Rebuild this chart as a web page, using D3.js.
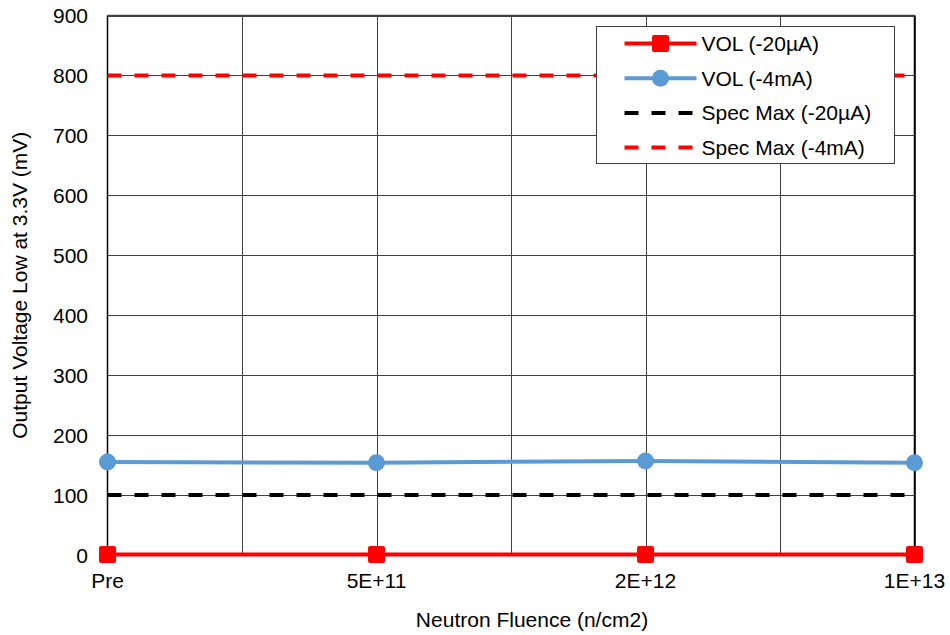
<!DOCTYPE html>
<html>
<head>
<meta charset="utf-8">
<script src="https://cdn.jsdelivr.net/npm/d3@7"></script>
<style>
	body { margin: 0; background: #fff; }
	svg { display: block; font-family: "Liberation Sans", Arial, sans-serif; }
</style>
</head>
<body>
<div id="chart"></div>
<script>
// Chart data
const categories = ["Pre", "5E+11", "2E+12", "1E+13"];
const vol20uA = [1, 1, 1, 1];
const vol4mA = [155, 154, 157, 154];
const specMax20uA = 100;
const specMax4mA = 800;
const yTicks = [0, 100, 200, 300, 400, 500, 600, 700, 800, 900];

const legendItems = [
	{ name: "VOL (-20µA)", color: "#ff0000", dash: null, marker: "square" },
	{ name: "VOL (-4mA)", color: "#5b9bd5", dash: null, marker: "circle" },
	{ name: "Spec Max (-20µA)", color: "#000000", dash: "14,13", marker: null },
	{ name: "Spec Max (-4mA)", color: "#ff0000", dash: "14,13", marker: null }
];

// SVG constants
const width = 950;
const height = 635;
const margin = { left: 107.5, right: 35.5, top: 15.5, bottom: 80 };

const svg = d3.select("#chart").append("svg")
	.attr("width", width)
	.attr("height", height);

const x = d3.scaleLinear()
	.domain([0, categories.length - 1])
	.range([margin.left, width - margin.right]);

const y = d3.scaleLinear()
	.domain([0, 900])
	.range([height - margin.bottom, margin.top]);

// Gridlines (vertical at every half category)
const grid = svg.append("g").attr("stroke", "#404040").attr("stroke-width", 1);
grid.selectAll(".hg")
	.data(yTicks)
	.join("line")
	.attr("x1", margin.left).attr("x2", width - margin.right)
	.attr("y1", d => Math.round(y(d)) + 0.5).attr("y2", d => Math.round(y(d)) + 0.5);
grid.selectAll(".vg")
	.data(d3.range(0.5, categories.length - 0.9, 0.5))
	.join("line")
	.attr("x1", d => Math.round(x(d)) + 0.5).attr("x2", d => Math.round(x(d)) + 0.5)
	.attr("y1", margin.top).attr("y2", y(0));

// Frame
svg.append("line")
	.attr("x1", margin.left).attr("x2", width - margin.right)
	.attr("y1", margin.top).attr("y2", margin.top)
	.attr("stroke", "#404040").attr("stroke-width", 1.5);
svg.append("line")
	.attr("x1", width - margin.right).attr("x2", width - margin.right)
	.attr("y1", margin.top).attr("y2", y(0))
	.attr("stroke", "#000").attr("stroke-width", 1.5);
svg.append("line")
	.attr("x1", margin.left).attr("x2", margin.left)
	.attr("y1", margin.top).attr("y2", y(0))
	.attr("stroke", "#000").attr("stroke-width", 1.5);

// Y axis labels
svg.append("g")
	.selectAll("text")
	.data(yTicks)
	.join("text")
	.attr("x", 88)
	.attr("y", d => y(d))
	.attr("dy", "0.36em")
	.attr("text-anchor", "end")
	.style("font-size", "21px")
	.text(d => d);

// X axis labels
svg.append("g")
	.selectAll("text")
	.data(categories)
	.join("text")
	.attr("x", (d, i) => x(i))
	.attr("y", 588)
	.attr("text-anchor", "middle")
	.style("font-size", "21px")
	.text(d => d);

// Axis titles
svg.append("text")
	.attr("x", 532)
	.attr("y", 627)
	.attr("text-anchor", "middle")
	.style("font-size", "21px")
	.text("Neutron Fluence (n/cm2)");

svg.append("text")
	.attr("transform", `translate(27, ${(margin.top + y(0)) / 2}) rotate(-90)`)
	.attr("text-anchor", "middle")
	.style("font-size", "21px")
	.text("Output Voltage Low at 3.3V (mV)");

// Spec lines
const specs = [
	{ value: specMax20uA, color: "#000000" },
	{ value: specMax4mA, color: "#ff0000" }
];
svg.append("g")
	.selectAll("line")
	.data(specs)
	.join("line")
	.attr("x1", x(0)).attr("x2", x(categories.length - 1))
	.attr("y1", d => y(d.value)).attr("y2", d => y(d.value))
	.attr("stroke", d => d.color)
	.attr("stroke-width", 4)
	.attr("stroke-dasharray", "14,13");

// Data series
const line = d3.line().x((d, i) => x(i)).y(d => y(d));

svg.append("path")
	.datum(vol4mA)
	.attr("fill", "none")
	.attr("stroke", "#5b9bd5")
	.attr("stroke-width", 4)
	.attr("d", line);
svg.append("g")
	.selectAll("circle")
	.data(vol4mA)
	.join("circle")
	.attr("cx", (d, i) => x(i))
	.attr("cy", d => y(d))
	.attr("r", 8.5)
	.attr("fill", "#5b9bd5");

svg.append("path")
	.datum(vol20uA)
	.attr("fill", "none")
	.attr("stroke", "#ff0000")
	.attr("stroke-width", 4)
	.attr("d", line);
svg.append("g")
	.selectAll("rect")
	.data(vol20uA)
	.join("rect")
	.attr("x", (d, i) => x(i) - 8.5)
	.attr("y", d => y(d) - 8.5)
	.attr("width", 17)
	.attr("height", 17)
	.attr("rx", 2)
	.attr("fill", "#ff0000");

// Legend
const legend = svg.append("g").attr("transform", "translate(596.5, 26.5)");
legend.append("rect")
	.attr("width", 298)
	.attr("height", 137)
	.attr("fill", "#fff")
	.attr("stroke", "#404040")
	.attr("stroke-width", 1);

const rows = legend.selectAll(".item")
	.data(legendItems)
	.join("g")
	.attr("transform", (d, i) => `translate(0, ${17 + i * 34.7})`);

rows.append("line")
	.attr("x1", 28).attr("x2", 100)
	.attr("stroke", d => d.color)
	.attr("stroke-width", 4)
	.attr("stroke-dasharray", d => d.dash);

rows.filter(d => d.marker === "square").append("rect")
	.attr("x", 64 - 8.5).attr("y", -8.5)
	.attr("width", 17).attr("height", 17).attr("rx", 2)
	.attr("fill", d => d.color);
rows.filter(d => d.marker === "circle").append("circle")
	.attr("cx", 64).attr("r", 8.5)
	.attr("fill", d => d.color);

rows.append("text")
	.attr("x", 105)
	.attr("dy", "0.36em")
	.style("font-size", "21px")
	.text(d => d.name);
</script>
</body>
</html>
